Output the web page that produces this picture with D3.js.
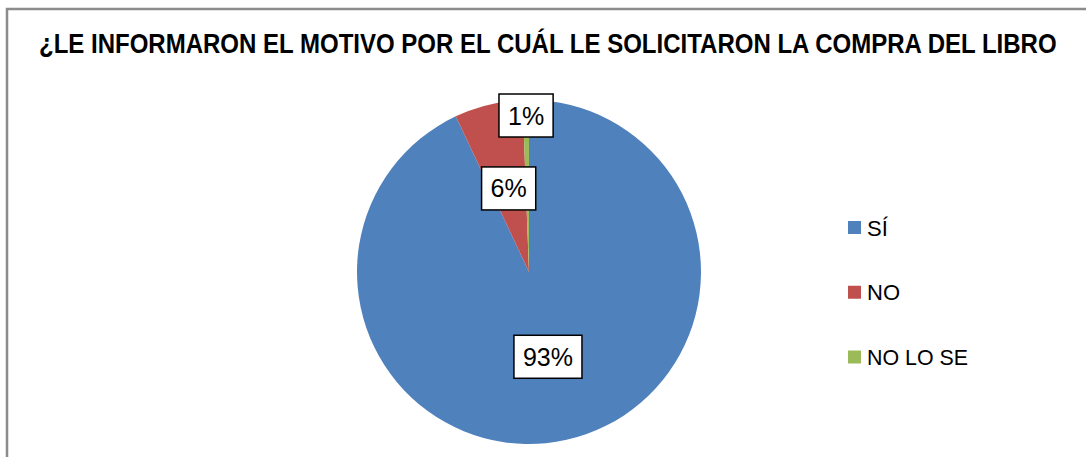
<!DOCTYPE html>
<html>
<head>
<meta charset="utf-8">
<script src="https://cdn.jsdelivr.net/npm/d3@7"></script>
<style>
  html, body { margin: 0; padding: 0; background: #fff; }
  svg { display: block; }
</style>
</head>
<body>
<svg id="chart" width="1086" height="457"></svg>
<script>
const title = "¿LE INFORMARON EL MOTIVO POR EL CUÁL LE SOLICITARON LA COMPRA DEL LIBRO";
const categories = ["SÍ", "NO", "NO LO SE"];
const values = [93.0, 6.4, 0.6];
const colors = ["#4F81BD", "#C0504D", "#9BBB59"];

const svg = d3.select("#chart");
const W = 1086, H = 457;

// chart frame (only top/left edges visible in crop)
svg.append("rect")
  .attr("x", 7).attr("y", 9)
  .attr("width", W + 20).attr("height", H + 20)
  .attr("fill", "#fff")
  .attr("stroke", "#8c8c8c").attr("stroke-width", 2.5);

// title (horizontally condensed to match the narrow bold face)
const titleG = svg.append("g");
const titleT = titleG.append("text")
  .attr("x", 0).attr("y", 0)
  .attr("font-family", "Liberation Sans, Arial, sans-serif")
  .attr("font-weight", "bold")
  .attr("font-size", 28.5)
  .attr("fill", "#000")
  .text(title);
const tw = titleT.node().getComputedTextLength();
titleG.attr("transform", `translate(39,53) scale(${1018 / tw},1)`);

// pie
const cx = 529, cy = 272, r = 172;
const data = categories.map((c, i) => ({ cat: c, value: values[i], color: colors[i] }));
const total = d3.sum(values);
const pie = d3.pie().sort(null).value(d => d.value).startAngle(0).endAngle(2 * Math.PI);
const arcs = pie(data);
const arc = d3.arc().innerRadius(0).outerRadius(r);

const g = svg.append("g").attr("transform", `translate(${cx},${cy})`);
g.selectAll("path.slice")
  .data(arcs)
  .enter().append("path")
  .attr("class", "slice")
  .attr("d", arc)
  .attr("fill", d => d.data.color);

// data labels
const labelFactor = [0.505, 0.5, 0.91];
const fmt = d3.format(".0%");
const boxH = 43, padX = 9;
arcs.forEach((d, i) => {
  const a = (d.startAngle + d.endAngle) / 2;
  const lr = r * labelFactor[i];
  const x = Math.sin(a) * lr, y = -Math.cos(a) * lr;
  const lg = g.append("g").attr("transform", `translate(${x},${y})`);
  const t = lg.append("text")
    .attr("text-anchor", "middle")
    .attr("dy", "0.36em")
    .attr("font-family", "Liberation Sans, Arial, sans-serif")
    .attr("font-size", 25)
    .attr("fill", "#000")
    .text(fmt(d.data.value / total));
  const w = t.node().getComputedTextLength() + 2 * padX;
  lg.insert("rect", "text")
    .attr("x", -w / 2).attr("y", -boxH / 2)
    .attr("width", w).attr("height", boxH)
    .attr("fill", "#fff")
    .attr("stroke", "#000").attr("stroke-width", 1.5);
});

// legend
const legY = d3.scalePoint().domain(categories).range([227.5, 357]);
const leg = svg.append("g");
categories.forEach((c, i) => {
  const y = legY(c);
  leg.append("rect")
    .attr("x", 848).attr("y", y - 6.5)
    .attr("width", 13).attr("height", 13)
    .attr("fill", colors[i]);
  leg.append("text")
    .attr("x", 867).attr("y", y + 8)
    .attr("font-family", "Liberation Sans, Arial, sans-serif")
    .attr("font-size", 22)
    .attr("textLength", c.length > 2 ? 101 : null)
    .attr("lengthAdjust", "spacingAndGlyphs")
    .attr("fill", "#000")
    .text(c);
});
</script>
</body>
</html>
